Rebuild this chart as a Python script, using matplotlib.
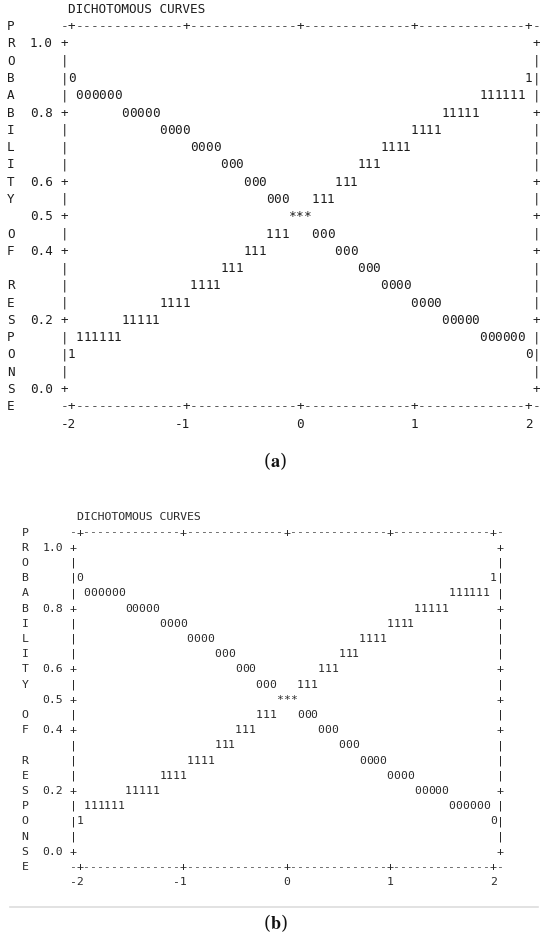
import matplotlib
matplotlib.use('Agg')
import matplotlib.pyplot as plt
from matplotlib.lines import Line2D
import numpy as np

plt.rcParams['mathtext.fontset'] = 'stix'

# Data: runs of plotted characters, one run per probability row
# curve "1" (rising) and curve "0" (falling) share the same x runs
run_x_from = [-2.000, -1.933, -1.533, -1.200, -0.933, -0.667, -0.467, -0.267, -0.067,
              0.133, 0.333, 0.533, 0.733, 1.000, 1.267, 1.600, 2.000]
run_x_to = [-2.000, -1.600, -1.267, -1.000, -0.733, -0.533, -0.333, -0.133, 0.067,
            0.267, 0.467, 0.667, 0.933, 1.200, 1.533, 1.933, 2.000]
curve1_prob = [0.10, 0.15, 0.20, 0.25, 0.30, 0.35, 0.40, 0.45, 0.50,
               0.55, 0.60, 0.65, 0.70, 0.75, 0.80, 0.85, 0.90]
curve0_prob = [0.90, 0.85, 0.80, 0.75, 0.70, 0.65, 0.60, 0.55, 0.50,
               0.45, 0.40, 0.35, 0.30, 0.25, 0.20, 0.15, 0.10]

x_ticks = [-2, -1, 0, 1, 2]
x_tick_labels = ['-2', '-1', '0', '1', '2']
y_ticks = [1.0, 0.8, 0.6, 0.5, 0.4, 0.2, 0.0]
y_tick_labels = ['1.0', '0.8', '0.6', '0.5', '0.4', '0.2', '0.0']
y_title = 'PROBABILITY OF RESPONSE'
title = 'DICHOTOMOUS CURVES'

# character grid of the line printer
DX = 1 / 15   # one column in x units
DY = 0.05     # one row in probability units
W, H = 550, 938

fig = plt.figure(figsize=(W / 100, H / 100), dpi=100)


def build_cells():
    cells = {}
    for sym, probs in (('1', curve1_prob), ('0', curve0_prob)):
        for xa, xb, p in zip(run_x_from, run_x_to, probs):
            for x in np.arange(xa, xb + DX / 2, DX):
                key = (int(round((x + 2) / DX)), int(round(p / DY)))
                cells[key] = '*' if key in cells and cells[key] != sym else sym
    return cells


def panel(top_px, bot_px, x0_px, ppu_x, y1_px, ppu_y, fs, color):
    ax = fig.add_axes([0, 1 - bot_px / H, 1, (bot_px - top_px) / H])
    ax.set_xlim(-2 - x0_px / ppu_x, -2 + (W - x0_px) / ppu_x)
    ax.set_ylim(1 - (bot_px - y1_px) / ppu_y, 1 + (y1_px - top_px) / ppu_y)
    ax.axis('off')
    kw = dict(family='DejaVu Sans Mono', fontsize=fs, color=color,
              ha='center', va='center')

    # curves
    for (k, r), ch in build_cells().items():
        ax.text(-2 + k * DX, r * DY, ch, **kw)

    # frame: top and bottom rulers
    tick_cols = [int(round((t + 2) / DX)) for t in x_ticks]
    for yrow in (1 + DY, -DY):
        for k in range(-1, 62):
            if k in tick_cols:
                ax.text(-2 + k * DX, yrow, '+', **kw)
            else:
                ax.text(-2 + k * DX, yrow, '-', **{**kw, 'color': '#555555'})

    # frame: left and right sides
    tick_rows = [int(round(t / DY)) for t in y_ticks]
    for r in range(0, 21):
        ch = '+' if r in tick_rows else '|'
        ax.text(-2 - DX, r * DY, ch, **kw)
        ax.text(2 + DX, r * DY, ch, **kw)

    # tick labels
    for t, lab in zip(y_ticks, y_tick_labels):
        ax.text(-2 - 2.5 * DX, t, lab, **{**kw, 'ha': 'right'})
    for t, lab in zip(x_ticks, x_tick_labels):
        ax.text(t + 0.5 * DX, -2 * DY, lab, **{**kw, 'ha': 'right'})

    # vertical y title, one letter per row
    for i, ch in enumerate(y_title):
        ax.text(-2 - 8 * DX, 1 + DY - i * DY, ch, **kw)

    ax.text(-2 - 0.5 * DX, 1 + 2 * DY, title, **{**kw, 'ha': 'left'})
    return ax


panel(0, 470, 71.8, 114.2, 44.0, 345.5, 9.1, '#1c1c1c')
panel(470, 938, 80.0, 103.3, 547.7, 304.0, 8.24, '#2a2a2a')

fig.text(0.5, 1 - 461 / H, r'($\mathbf{a}$)', ha='center', va='center',
         family='DejaVu Serif', fontsize=13, color='#111111')
fig.text(0.5, 1 - 923 / H, r'($\mathbf{b}$)', ha='center', va='center',
         family='DejaVu Serif', fontsize=13, color='#111111')
fig.add_artist(Line2D([10 / W, 538 / W], [1 - 906.7 / H] * 2, color='#dddddd',
                      lw=1.2, transform=fig.transFigure))

plt.savefig('out.png', dpi=100)
